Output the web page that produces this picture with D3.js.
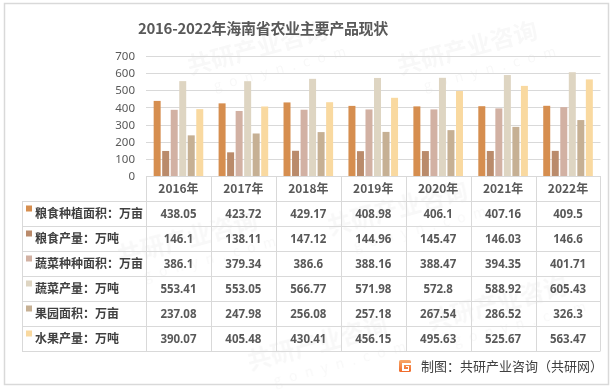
<!DOCTYPE html>
<html><head><meta charset="utf-8">
<script src="https://cdn.jsdelivr.net/npm/d3@7"></script>
<style>
html,body{margin:0;padding:0;background:#fff;}
svg{display:block;font-family:"Noto Sans CJK SC","Noto Sans",sans-serif;}
</style></head>
<body>
<script>
const title = "2016-2022年海南省农业主要产品现状";
const categories = ["2016年","2017年","2018年","2019年","2020年","2021年","2022年"];
const seriesNames = ["粮食种植面积：万亩","粮食产量：万吨","蔬菜种种面积：万亩","蔬菜产量：万吨","果园面积：万亩","水果产量：万吨"];
const grainArea = [438.05,423.72,429.17,408.98,406.1,407.16,409.5];
const grainOutput = [146.1,138.11,147.12,144.96,145.47,146.03,146.6];
const vegArea = [386.1,379.34,386.6,388.16,388.47,394.35,401.71];
const vegOutput = [553.41,553.05,566.77,571.98,572.8,588.92,605.43];
const orchardArea = [237.08,247.98,256.08,257.18,267.54,286.52,326.3];
const fruitOutput = [390.07,405.48,430.41,456.15,495.63,525.67,563.47];
const yTicks = [0,100,200,300,400,500,600,700];
const colors = ["#D68E4F","#BA8B6B","#D2B1A3","#DED5C2","#C6B094","#F9D9A0"];
const source = "制图：共研产业咨询（共研网）";

(function(){
const seriesValues = [grainArea,grainOutput,vegArea,vegOutput,orchardArea,fruitOutput];
const series = seriesNames.map((n,i)=>({name:n,values:seriesValues[i],color:colors[i]}));

const W=614,H=390;
const svg = d3.select("body").append("svg").attr("width",W).attr("height",H);
svg.append("rect").attr("width",W).attr("height",H).attr("fill","#fff");

// faint watermarks (kept inside the frame)
const wm = svg.append("g").attr("fill","#000").attr("opacity",0.03).attr("font-weight","bold");
[[190,75],[400,75],[120,265],[330,235],[250,370],[430,330]].forEach(([x,y])=>{
  const g = wm.append("g").attr("transform",`translate(${x},${y}) rotate(-15)`);
  g.append("text").attr("font-size",24).text("共研产业咨询");
  g.append("text").attr("x",20).attr("y",22).attr("font-size",14).attr("font-weight","normal").attr("letter-spacing",8).text("gonyn.com");
});

// outer border
svg.append("rect").attr("x",4.5).attr("y",3.5).attr("width",604).attr("height",381)
  .attr("fill","none").attr("stroke","#d9d9d9").attr("stroke-width",1.5);

svg.append("text").attr("x",263).attr("y",34).attr("text-anchor","middle")
  .attr("font-size",15).attr("letter-spacing",-0.3).attr("font-weight","bold").attr("fill","#595959").text(title);

const pLeft=146,pRight=600.5,pTop=56,pBottom=176;
const x0 = d3.scaleBand().domain(categories).range([pLeft,pRight]).padding(0);
const x1 = d3.scaleBand().domain(seriesNames).range([0,x0.bandwidth()]).paddingInner(0.18).paddingOuter(0.9);
const y = d3.scaleLinear().domain([0,700]).range([pBottom,pTop]);

// grid
svg.append("g").selectAll("line").data(yTicks.slice(1)).join("line")
  .attr("x1",pLeft).attr("x2",pRight).attr("y1",d=>Math.round(y(d))+0.5).attr("y2",d=>Math.round(y(d))+0.5)
  .attr("stroke","#d9d9d9").attr("stroke-width",1);

// y axis
const ya = svg.append("g").attr("transform",`translate(${pLeft},0)`)
  .call(d3.axisLeft(y).tickValues(yTicks).tickSize(0).tickPadding(11));
ya.select(".domain").remove();
ya.selectAll("text").attr("font-size",11.5).attr("fill","#595959").attr("font-family","Noto Sans, sans-serif");

// bars
svg.append("g").selectAll("g").data(series).join("g").attr("fill",d=>d.color)
  .selectAll("rect").data(d=>d.values.map((v,i)=>({v,c:categories[i],s:d.name}))).join("rect")
  .attr("x",d=>x0(d.c)+x1(d.s)).attr("width",x1.bandwidth())
  .attr("y",d=>y(d.v)).attr("height",d=>y(0)-y(d.v));

// table
const rowH=25, tTop=176, tLeft=22;
const tb = svg.append("g");
const lineC="#d9d9d9";
tb.append("line").attr("x1",pLeft).attr("x2",pRight).attr("y1",tTop+0.5).attr("y2",tTop+0.5).attr("stroke",lineC);
for(let r=1;r<=7;r++){
  const yy=tTop+r*rowH+0.5;
  tb.append("line").attr("x1",tLeft).attr("x2",pRight).attr("y1",yy).attr("y2",yy).attr("stroke",lineC);
}
tb.append("line").attr("x1",tLeft+0.5).attr("x2",tLeft+0.5).attr("y1",tTop+rowH).attr("y2",tTop+7*rowH).attr("stroke",lineC);
categories.forEach(c=>{
  const xx=Math.round(x0(c))+0.5;
  tb.append("line").attr("x1",xx).attr("x2",xx).attr("y1",tTop).attr("y2",tTop+7*rowH).attr("stroke",lineC);
});
tb.append("line").attr("x1",pRight).attr("x2",pRight).attr("y1",tTop).attr("y2",tTop+7*rowH).attr("stroke",lineC);
tb.selectAll("text.h").data(categories).join("text").attr("class","h")
  .attr("x",d=>x0(d)+x0.bandwidth()/2).attr("y",tTop+rowH/2+4.5).attr("text-anchor","middle")
  .attr("font-size",12).attr("font-weight","bold").attr("fill","#595959").text(d=>d);
series.forEach((s,r)=>{
  const cy=tTop+(r+1)*rowH+rowH/2;
  tb.append("rect").attr("x",26).attr("y",cy-8).attr("width",6).attr("height",6).attr("fill",s.color);
  tb.append("text").attr("x",35).attr("y",cy+4.5).attr("font-size",12).attr("font-weight","bold")
    .attr("fill","#404040").text(s.name);
  s.values.forEach((v,i)=>{
    tb.append("text").attr("x",x0(categories[i])+x0.bandwidth()/2).attr("y",cy+4.5).attr("text-anchor","middle")
      .attr("font-size",11.5).attr("font-weight","bold").attr("fill","#595959")
      .attr("font-family","Noto Sans, sans-serif").text(v);
  });
});

// source
const lg = svg.append("g").attr("transform","translate(399,360)");
const grad = svg.append("defs").append("linearGradient").attr("id","lg").attr("x1",0).attr("y1",0).attr("x2",0).attr("y2",1);
grad.append("stop").attr("offset",0).attr("stop-color","#F7A86A");
grad.append("stop").attr("offset",1).attr("stop-color","#F06A2A");
lg.append("rect").attr("width",12).attr("height",12).attr("rx",1.5).attr("fill","url(#lg)");
lg.append("path").attr("d","M3,3 H12 V5 H5 V9 H9 V7 H7 V6 H10 V11 H3 Z").attr("fill","#fff");
svg.append("text").attr("x",421).attr("y",370.5).attr("font-size",13).attr("fill","#404040").text(source);
})();
</script>
</body></html>
